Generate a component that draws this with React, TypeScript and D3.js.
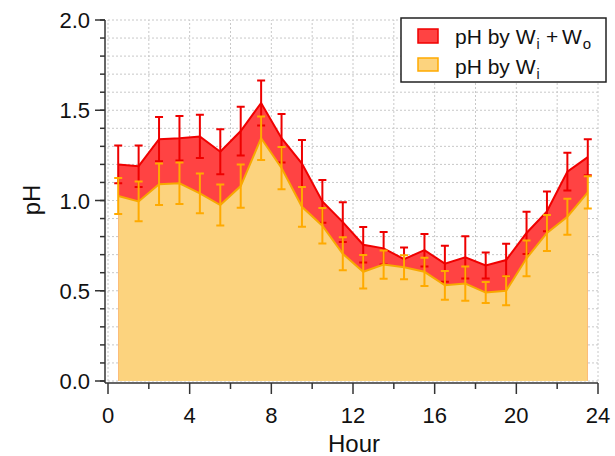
import React, { useEffect, useRef } from "react";
import * as d3 from "d3";

// hourly means (hour centre) and standard errors
const hours = [0.5, 1.5, 2.5, 3.5, 4.5, 5.5, 6.5, 7.5, 8.5, 9.5, 10.5, 11.5, 12.5, 13.5, 14.5, 15.5, 16.5, 17.5, 18.5, 19.5, 20.5, 21.5, 22.5, 23.5];
const phTotal = [1.2, 1.19, 1.34, 1.345, 1.355, 1.27, 1.385, 1.54, 1.345, 1.205, 0.995, 0.88, 0.755, 0.735, 0.675, 0.725, 0.65, 0.685, 0.64, 0.67, 0.82, 0.94, 1.16, 1.24];
const phTotalErr = [0.105, 0.115, 0.122, 0.123, 0.12, 0.125, 0.135, 0.125, 0.134, 0.13, 0.118, 0.11, 0.098, 0.09, 0.065, 0.09, 0.1, 0.117, 0.072, 0.09, 0.117, 0.11, 0.105, 0.1];
const phInner = [1.025, 0.995, 1.09, 1.095, 1.04, 0.975, 1.08, 1.345, 1.18, 0.965, 0.86, 0.705, 0.605, 0.645, 0.63, 0.605, 0.53, 0.54, 0.49, 0.5, 0.68, 0.82, 0.91, 1.045];
const phInnerErr = [0.1, 0.11, 0.115, 0.115, 0.11, 0.114, 0.12, 0.12, 0.117, 0.11, 0.098, 0.092, 0.093, 0.078, 0.066, 0.078, 0.08, 0.095, 0.058, 0.08, 0.099, 0.1, 0.1, 0.09];

const xTicks = [0, 4, 8, 12, 16, 20, 24];
const xMinorTicks = [2, 6, 10, 14, 18, 22];
const yTicks = [0, 0.5, 1.0, 1.5, 2.0];

const FONT = "Arial, 'Liberation Sans', sans-serif";

export default function App() {
  const ref = useRef<SVGSVGElement>(null);

  useEffect(() => {
    const svg = d3.select(ref.current);
    svg.selectAll("*").remove();

    const x = d3.scaleLinear().domain([0, 24]).range([108, 598]);
    const y = d3.scaleLinear().domain([0, 2]).range([381, 20]);
    const axisX = 105; // y-axis line sits a little left of x=0
    const axisY = 383; // x-axis line sits a little below y=0

    const data = hours.map((h, i) => ({
      h,
      tot: phTotal[i],
      totErr: phTotalErr[i],
      inn: phInner[i],
      innErr: phInnerErr[i],
    }));

    // grid
    const grid = svg.append("g").attr("stroke", "#c8c8c8").attr("stroke-dasharray", "2,2").attr("stroke-width", 1);
    grid
      .selectAll(".hgrid")
      .data(d3.range(0, 21).map((d) => d / 10))
      .join("line")
      .attr("x1", x(0))
      .attr("x2", x(24))
      .attr("y1", (d) => y(d))
      .attr("y2", (d) => y(d));
    grid
      .selectAll(".vgrid")
      .data(d3.range(0, 25, 2))
      .join("line")
      .attr("x1", (d) => x(d))
      .attr("x2", (d) => x(d))
      .attr("y1", y(0))
      .attr("y2", y(2));

    // red area: Wi + Wo
    const areaTot = d3
      .area<any>()
      .x((d) => x(d.h))
      .y0(y(0))
      .y1((d) => y(d.tot));
    const lineTot = d3
      .line<any>()
      .x((d) => x(d.h))
      .y((d) => y(d.tot));
    svg.append("path").datum(data).attr("d", areaTot).attr("fill", "#ff4343");
    svg.append("path").datum(data).attr("d", lineTot).attr("fill", "none").attr("stroke", "#f00000").attr("stroke-width", 2);

    const errBars = (key: string, errKey: string, color: string) => {
      const g = svg.append("g").attr("stroke", color).attr("stroke-width", 2).attr("fill", "none");
      const cap = 4;
      g.selectAll(".eb")
        .data(data)
        .join("path")
        .attr("d", (d: any) => {
          const cx = x(d.h);
          const top = y(d[key] + d[errKey]);
          const bot = y(d[key] - d[errKey]);
          return `M${cx - cap},${top}H${cx + cap}M${cx},${top}V${bot}M${cx - cap},${bot}H${cx + cap}`;
        });
    };
    errBars("tot", "totErr", "#ee0000");

    // yellow area: Wi
    const areaInn = d3
      .area<any>()
      .x((d) => x(d.h))
      .y0(y(0))
      .y1((d) => y(d.inn));
    const lineInn = d3
      .line<any>()
      .x((d) => x(d.h))
      .y((d) => y(d.inn));
    svg.append("path").datum(data).attr("d", areaInn).attr("fill", "#fcd37e");
    svg.append("path").datum(data).attr("d", lineInn).attr("fill", "none").attr("stroke", "#f7a800").attr("stroke-width", 2);
    errBars("inn", "innErr", "#ffaa00");

    // axes
    const ax = svg.append("g").attr("stroke", "#333").attr("stroke-width", 1.5);
    ax.append("line").attr("x1", axisX).attr("x2", axisX).attr("y1", y(2)).attr("y2", axisY);
    ax.append("line").attr("x1", axisX).attr("x2", x(24)).attr("y1", axisY).attr("y2", axisY);
    ax.selectAll(".ymin")
      .data(d3.range(0, 21).map((d) => d / 10))
      .join("line")
      .attr("x1", axisX - 5)
      .attr("x2", axisX)
      .attr("y1", (d) => y(d))
      .attr("y2", (d) => y(d));
    ax.selectAll(".ymaj")
      .data(yTicks)
      .join("line")
      .attr("x1", axisX - 10)
      .attr("x2", axisX)
      .attr("y1", (d) => y(d))
      .attr("y2", (d) => y(d));
    ax.selectAll(".xmaj")
      .data(xTicks)
      .join("line")
      .attr("x1", (d) => x(d))
      .attr("x2", (d) => x(d))
      .attr("y1", axisY)
      .attr("y2", axisY + 11);
    ax.selectAll(".xmin")
      .data(xMinorTicks)
      .join("line")
      .attr("x1", (d) => x(d))
      .attr("x2", (d) => x(d))
      .attr("y1", axisY)
      .attr("y2", axisY + 6);

    // tick labels
    svg
      .append("g")
      .selectAll("text")
      .data(yTicks)
      .join("text")
      .attr("x", 90)
      .attr("y", (d) => y(d) + 8)
      .attr("text-anchor", "end")
      .style("font-family", FONT)
      .style("font-size", "22px")
      .attr("fill", "#111")
      .text((d) => d3.format(".1f")(d));
    svg
      .append("g")
      .selectAll("text")
      .data(xTicks)
      .join("text")
      .attr("x", (d) => x(d))
      .attr("y", 423)
      .attr("text-anchor", "middle")
      .style("font-family", FONT)
      .style("font-size", "22px")
      .attr("fill", "#111")
      .text((d) => d);

    // axis titles
    svg
      .append("text")
      .attr("transform", "translate(40,200) rotate(-90)")
      .attr("text-anchor", "middle")
      .style("font-family", FONT)
      .style("font-size", "24px")
      .attr("fill", "#111")
      .text("pH");
    svg
      .append("text")
      .attr("x", 354)
      .attr("y", 452)
      .attr("text-anchor", "middle")
      .style("font-family", FONT)
      .style("font-size", "24px")
      .attr("fill", "#111")
      .text("Hour");

    // legend
    const lg = svg.append("g");
    lg.append("rect").attr("x", 401).attr("y", 18).attr("width", 205).attr("height", 64).attr("fill", "#fff").attr("stroke", "#222").attr("stroke-width", 1.5);
    lg.append("rect").attr("x", 418).attr("y", 29).attr("width", 20).attr("height", 14).attr("fill", "#ff4343").attr("stroke", "#f00000").attr("stroke-width", 1.5);
    lg.append("rect").attr("x", 418).attr("y", 58).attr("width", 20).attr("height", 13).attr("fill", "#fcd37e").attr("stroke", "#ffaa00").attr("stroke-width", 1.5);

    const t1 = lg.append("text").attr("x", 455).attr("y", 44).style("font-family", FONT).style("font-size", "21px").attr("fill", "#111");
    t1.append("tspan").text("pH by W");
    t1.append("tspan").attr("dx", 1).attr("dy", 5).style("font-size", "14px").text("i");
    t1.append("tspan").attr("x", 546).attr("dy", -5).text("+");
    t1.append("tspan").attr("x", 562).text("W");
    t1.append("tspan").attr("dx", 1).attr("dy", 5).style("font-size", "15px").text("o");

    const t2 = lg.append("text").attr("x", 455).attr("y", 74).style("font-family", FONT).style("font-size", "21px").attr("fill", "#111");
    t2.append("tspan").text("pH by W");
    t2.append("tspan").attr("dx", 1).attr("dy", 5).style("font-size", "14px").text("i");
  }, []);

  return <svg ref={ref} width={615} height={456} style={{ position: "absolute", left: 0, top: 0, background: "#fff" }} />;
}
